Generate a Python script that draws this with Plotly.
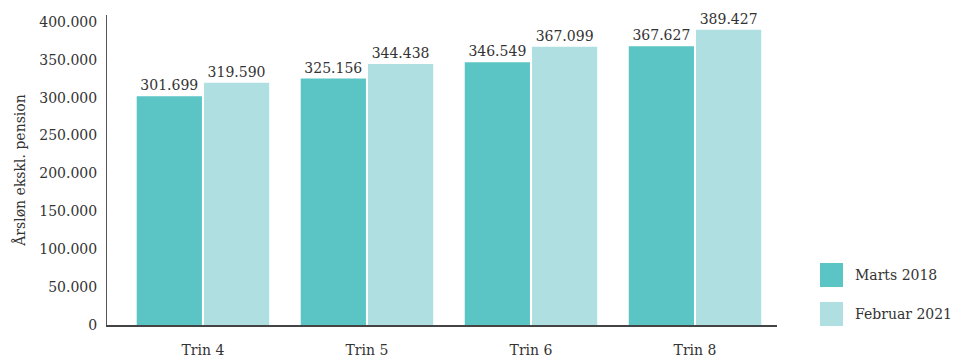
import plotly.graph_objects as go

categories = ["Trin 4", "Trin 5", "Trin 6", "Trin 8"]
series_names = ["Marts 2018", "Februar 2021"]
marts_2018 = [301699, 325156, 346549, 367627]
februar_2021 = [319590, 344438, 367099, 389427]
colors = ["#5bc5c6", "#b0dfe1"]
y_ticks = [0, 50000, 100000, 150000, 200000, 250000, 300000, 350000, 400000]

FONT = "DejaVu Serif"
TXT = "#333333"
FS = 14

fig = go.Figure()
for name, vals, col in zip(series_names, [marts_2018, februar_2021], colors):
    fig.add_trace(go.Bar(
        x=categories, y=vals, name=name, marker_color=col,
        marker_line_width=0,
        texttemplate="%{y:,}", textposition="outside",
        textfont=dict(family=FONT, size=FS, color=TXT),
        cliponaxis=False, showlegend=False,
    ))

# legend drawn as swatches + text
for i, (name, col) in enumerate(zip(series_names, colors)):
    yc = 275 + i * 39
    fig.add_shape(type="rect", xref="paper", yref="paper",
                  x0=(820 - 107) / 670, x1=(843 - 107) / 670,
                  y0=(325 - (yc + 12)) / 310, y1=(325 - (yc - 12)) / 310,
                  fillcolor=col, line_width=0)
    fig.add_annotation(xref="paper", yref="paper", x=(853 - 107) / 670,
                       y=(325 - yc) / 310, text=name, showarrow=False,
                       xanchor="left", yanchor="middle",
                       font=dict(family=FONT, size=FS, color=TXT))

fig.update_layout(
    width=955, height=358,
    margin=dict(l=107, r=178, t=15, b=33),
    barmode="group", bargap=0.18, bargroupgap=0.03,
    separators=",.",
    plot_bgcolor="white", paper_bgcolor="white",
    font=dict(family=FONT, size=FS, color=TXT),
    xaxis=dict(range=[-0.585, 3.5], showline=True, linecolor="#444444",
               linewidth=2, ticks="outside", ticklen=11, tickcolor="rgba(0,0,0,0)",
               automargin=False,
               tickfont=dict(family=FONT, size=FS, color=TXT), showgrid=False),
    yaxis=dict(range=[0, 409000], tickvals=y_ticks, tickformat=",",
               showline=True, linecolor="#555555", linewidth=1,
               showgrid=False, zeroline=False, ticks="outside", ticklen=6,
               tickcolor="rgba(0,0,0,0)", automargin=False,
               tickfont=dict(family=FONT, size=FS, color=TXT),
               title=dict(text="Årsløn ekskl. pension", standoff=10,
                          font=dict(family=FONT, size=FS, color=TXT))),
)

fig.write_html("out.html")
